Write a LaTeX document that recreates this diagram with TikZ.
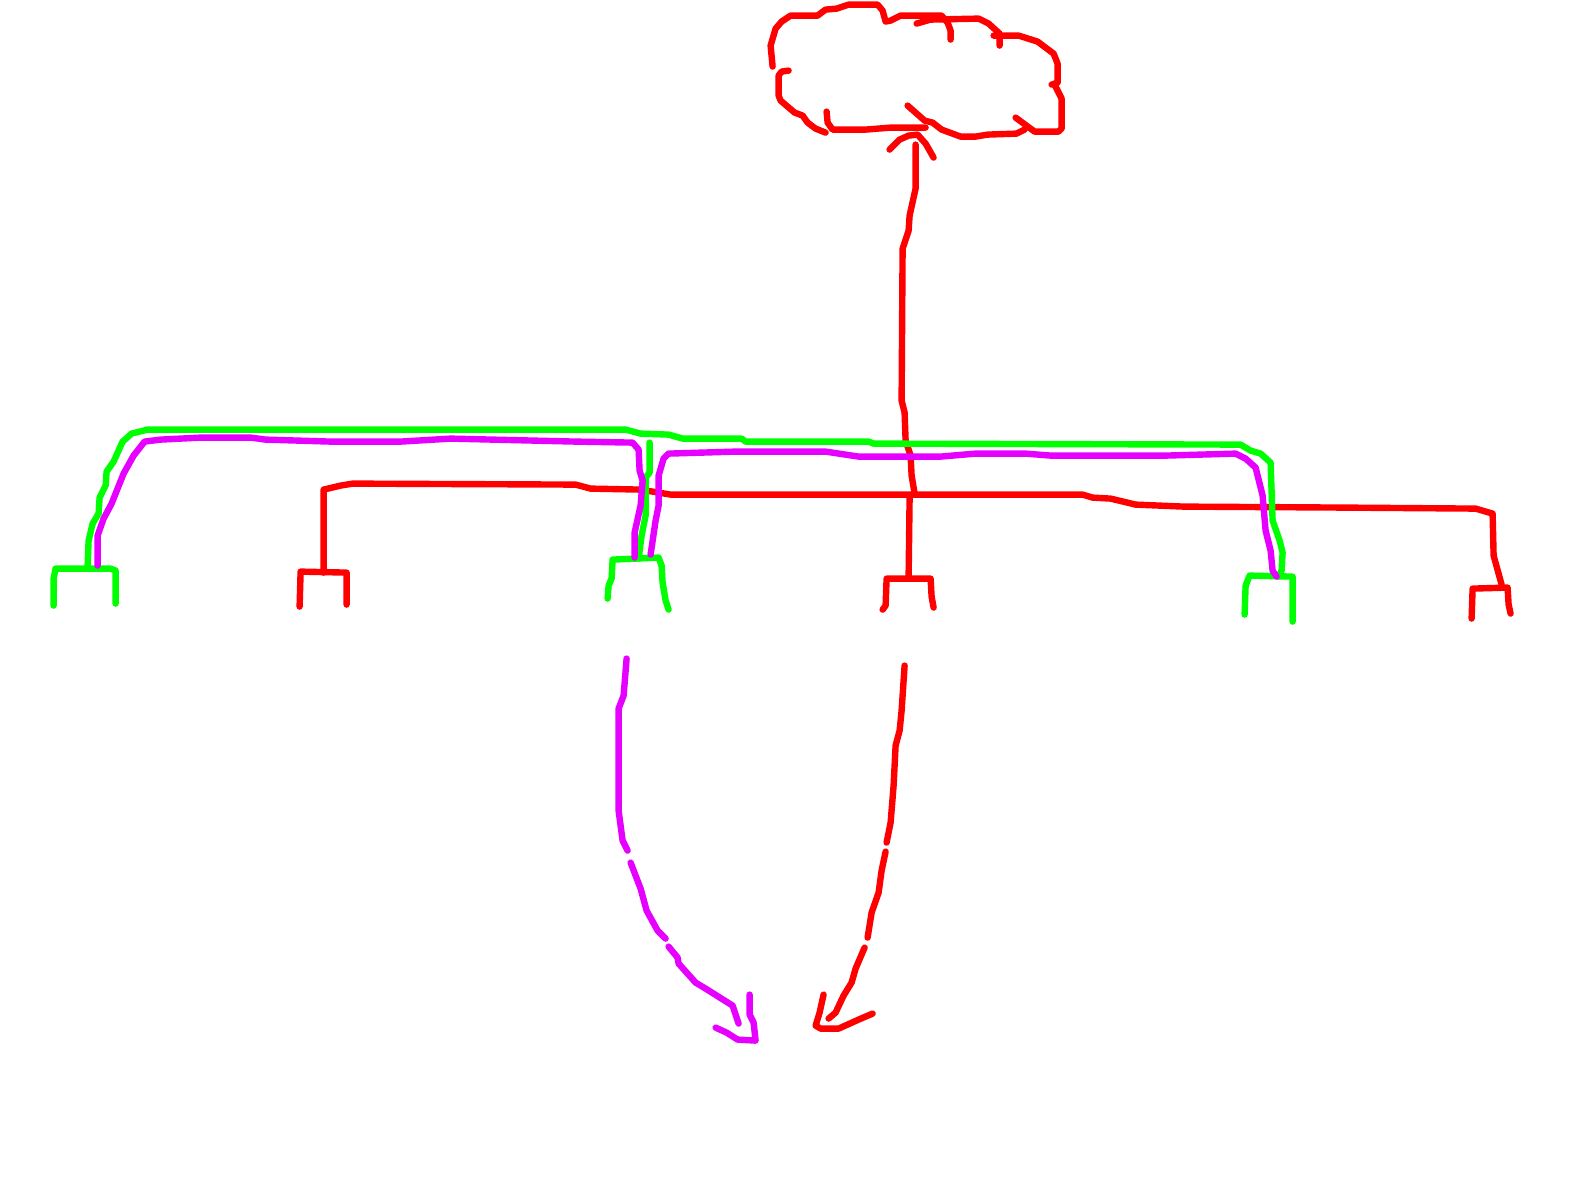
\documentclass[tikz,border=0pt]{standalone}
\definecolor{penred}{RGB}{255,0,0}
\definecolor{pengreen}{RGB}{0,255,0}
\definecolor{penpink}{RGB}{230,0,255}
\tikzset{
  redpen/.style={draw=penred,line width=6.4pt,line cap=round,line join=round},
  greenpen/.style={draw=pengreen,line width=6.4pt,line cap=round,line join=round},
  pinkpen/.style={draw=penpink,line width=6.4pt,line cap=round,line join=round}
}
\begin{document}
\begin{tikzpicture}[x=1pt,y=-1pt]
  \useasboundingbox (-0.6,-0.6) rectangle (1568.4,1182.4);
  % cloud
  \draw [redpen] (772,66) -- (770,45) -- (775,28) -- (781,21) -- (790,15) -- (817,15) -- (825,9) -- (836,8) -- (848,4) -- (877,4) -- (882,10) -- (885,21) -- (890,20) -- (900,15) -- (941,15) -- (947,22) -- (950,30) -- (950,39);
  \draw [redpen] (916,23) -- (930,19) -- (978,18) -- (988,23) -- (999,33) -- (999,45);
  \draw [redpen] (993,35) -- (1018,35) -- (1037,41) -- (1053,53) -- (1057,63) -- (1057,82) -- (1051,84);
  \draw [redpen] (1054,84) -- (1061,98) -- (1061,128) -- (1058,131) -- (1034,131) -- (1015,117);
  \draw [redpen] (1024,129) -- (1016,133) -- (987,134) -- (975,136) -- (960,136) -- (941,129) -- (932,122) -- (924,120) -- (907,105);
  \draw [redpen] (925,127) -- (890,127) -- (865,129) -- (832,129) -- (827,122) -- (826,111);
  \draw [redpen] (825,132) -- (815,128) -- (807,122) -- (802,115) -- (794,112) -- (780,100) -- (778,95) -- (778,75) -- (781,71) -- (788,70);
  % up arrow
  \draw [redpen] (889,149) -- (899,139) -- (908,135) -- (917,134) -- (925,143) -- (933,157);
  \draw [redpen] (915,144) -- (915,188) -- (909,215) -- (908,230) -- (902,248) -- (901,400) -- (904,412) -- (905,440) -- (910,455) -- (911,475) -- (914,493);
  % red bus
  \draw [redpen] (323,572) -- (323,489) -- (340,485) -- (352,483) -- (575,484) -- (590,488) -- (640,489) -- (670,494) -- (1082,494) -- (1092,497) -- (1110,498) -- (1135,504) -- (1183,506) -- (1345,507) -- (1475,508) -- (1492,513) -- (1493,555) -- (1501,584);
  \draw [redpen] (909,497) -- (908,577);
  % red forks
  \draw [redpen] (299,606) -- (300,571) -- (346,572) -- (346,604);
  \draw [redpen] (882,609) -- (885,605) -- (886,578) -- (930,578) -- (931,596) -- (933,607);
  \draw [redpen] (1471,618) -- (1472,588) -- (1507,587) -- (1508,604) -- (1510,613);
  % green bus
  \draw [greenpen] (87,566) -- (88,540) -- (92,523) -- (98,513) -- (99,497) -- (105,485) -- (106,471) -- (113,461) -- (122,441) -- (131,433) -- (147,429) -- (625,429) -- (640,433) -- (668,434) -- (682,438) -- (741,438) -- (745,441) -- (868,441) -- (873,443) -- (1240,444) -- (1250,450) -- (1260,453) -- (1270,462) -- (1272,520) -- (1279,540) -- (1282,552) -- (1281,570) -- (1278,576);
  \draw [greenpen] (649,442) -- (649,472) -- (645,477) -- (645,515) -- (641,535) -- (638,558);
  % green forks
  \draw [greenpen] (53,605) -- (53,578) -- (55,568) -- (110,568) -- (115,570) -- (115,603);
  \draw [greenpen] (607,598) -- (608,585) -- (611,578) -- (612,559) -- (658,557) -- (661,565) -- (662,582) -- (665,600) -- (668,609);
  \draw [greenpen] (1244,614) -- (1245,585) -- (1249,575) -- (1292,576) -- (1292,621);
  % pink bus
  \draw [pinkpen] (97,565) -- (97,535) -- (103,518) -- (111,503) -- (123,473) -- (133,455) -- (144,441) -- (160,439) -- (200,437) -- (250,437) -- (265,439) -- (330,441) -- (400,441) -- (450,438) -- (575,441) -- (632,442) -- (638,449) -- (639,470) -- (642,480) -- (640,505) -- (634,532) -- (634,557);
  \draw [pinkpen] (650,554) -- (655,520) -- (658,505) -- (658,475) -- (663,458) -- (668,453) -- (735,451) -- (825,451) -- (858,456) -- (940,456) -- (975,453) -- (1025,453) -- (1050,455) -- (1130,455) -- (1165,455) -- (1235,453) -- (1245,458) -- (1255,467) -- (1262,495) -- (1265,530) -- (1270,550) -- (1272,570) -- (1276,576);
  % down arrows
  \draw [pinkpen] (626,658) -- (623,695) -- (618,708) -- (618,810) -- (622,840) -- (627,850);
  \draw [pinkpen] (630,862) -- (640,888) -- (646,910) -- (657,930) -- (665,938);
  \draw [pinkpen] (668,946) -- (677,957) -- (678,963) -- (695,982) -- (705,988) -- (732,1005) -- (738,1023);
  \draw [pinkpen] (749,994) -- (749,1014) -- (753,1022) -- (755,1040) -- (737,1039) -- (726,1032) -- (715,1027);
  \draw [redpen] (904,665) -- (901,710) -- (899,730) -- (895,745) -- (893,785) -- (890,822) -- (886,842);
  \draw [redpen] (885,851) -- (881,870) -- (878,892) -- (871,912) -- (867,937);
  \draw [redpen] (864,947) -- (855,968) -- (851,982) -- (843,995) -- (835,1012) -- (828,1018);
  \draw [redpen] (823,994) -- (819,1012) -- (815,1025) -- (820,1028) -- (838,1028) -- (858,1019) -- (872,1013);
\end{tikzpicture}
\end{document}
